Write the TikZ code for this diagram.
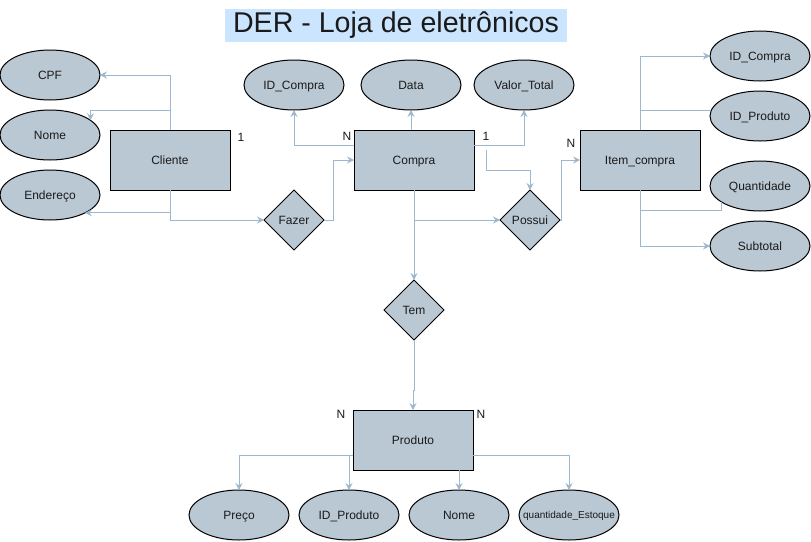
\documentclass[tikz,border=0pt]{standalone}
\usepackage{fontspec}
\setmainfont{Liberation Sans}
\usepackage{tikz}
\usetikzlibrary{shapes.geometric,positioning}
\usetikzlibrary{arrows.meta,calc}
\definecolor{caixa}{HTML}{BAC8D3}
\definecolor{ligacao}{HTML}{9DB7CE}
\definecolor{fundotitulo}{HTML}{CCE5FF}
\definecolor{texto}{HTML}{1A1A1A}

\begin{document}
\begin{tikzpicture}[x=1pt,y=-1pt,every node/.style={outer sep=0pt,text=texto},
        rotulo/.style={font=\fontsize{12}{14}\selectfont,text height=8.6pt,text depth=0pt},
        entidade/.style={rotulo,draw=black,fill=caixa,line width=1pt,minimum width=120pt,minimum height=60pt},
        atributo/.style={rotulo,ellipse,draw=black,fill=caixa,line width=1pt,minimum width=100pt,minimum height=50pt,inner sep=0pt},
        relacao/.style={rotulo,diamond,draw=black,fill=caixa,line width=1pt,minimum width=60pt,minimum height=60pt,inner sep=0pt},
        traco/.style={draw=ligacao,line width=1pt},
        seta/.style={traco,-{Stealth[length=7pt,width=7pt,inset=2.5pt]}},
        card/.style={rotulo,inner sep=0pt},
        titulo/.style={fill=fundotitulo,minimum width=342pt,minimum height=33pt,inner sep=0pt,font=\fontsize{28.6}{32}\selectfont}]
        \useasboundingbox (0,0) rectangle (811,541);

        % Title
        \node[titulo] (tit) at (396,25.5) {DER - Loja de eletrônicos};

        % Entities
        \node[entidade] (cliente) at (170,160) {Cliente};
        \node[entidade] (compra) at (414,160) {Compra};
        \node[entidade] (item) at (640,160) {Item\_compra};
        \node[entidade] (produto) at (413,440) {Produto};

        % Relationships
        \node[relacao] (fazer) at (294,220) {Fazer};
        \node[relacao] (possui) at (530,220) {Possui};
        \node[relacao] (tem) at (414,310) {Tem};

        % Cliente attributes
        \node[atributo] (cpf) at (50,75) {CPF};
        \node[atributo,below=10pt of cpf] (nome) {Nome};
        \node[atributo,below=10pt of nome] (endereco) {Endereço};

        % Compra attributes
        \node[atributo] (idcompra) at (294,85) {ID\_Compra};
        \node[atributo] (data) at (411,85) {Data};
        \node[atributo] (valor) at (524,85) {Valor\_Total};

        % Item_compra attributes
        \node[atributo] (itemidcompra) at (760,56) {ID\_Compra};
        \node[atributo,below=10pt of itemidcompra] (itemidproduto) {ID\_Produto};
        \node[atributo,below=20pt of itemidproduto] (quantidade) {Quantidade};
        \node[atributo,below=10pt of quantidade] (subtotal) {Subtotal};

        % Produto attributes
        \node[atributo] (preco) at (239,515) {Preço};
        \node[atributo,right=10pt of preco] (idproduto) {ID\_Produto};
        \node[atributo,right=10pt of idproduto] (nomeprod) {Nome};
        \node[atributo,right=10pt of nomeprod,font=\fontsize{10}{12}\selectfont,text height=7.2pt,inner xsep=-12pt] (estoque) {quantidade\_Estoque};

        % Cardinalities
        \node[card] (c1) at ([xshift=11pt,yshift=-7pt]cliente.north east) {1};
        \node[card] (c2) at ([xshift=-7pt,yshift=-6pt]compra.north west) {N};
        \node[card] (c3) at ([xshift=12pt,yshift=-6pt]compra.north east) {1};
        \node[card] (c4) at ([xshift=-9pt,yshift=-13pt]item.north west) {N};
        \node[card] (c5) at ([xshift=-12pt,yshift=-4pt]produto.north west) {N};
        \node[card] (c6) at ([xshift=8pt,yshift=-4pt]produto.north east) {N};
        \coordinate (possuiin) at ([yshift=-14pt]c3.center);

        % Cliente links
        \draw[seta] (cliente.north) |- (cpf.east);
        \draw[seta] (cliente.north |- 0,110) -| (nome.20);
        \draw[seta] (cliente.south |- endereco.-27.4) -- (endereco.-27.4);
        \draw[seta] (cliente.south) |- (fazer.west);
        \draw[seta] (fazer.east) -- ++(9,0) |- (compra.west);

        % Compra links
        \draw[seta] (compra.west |- 0,145) -| (idcompra.south);
        \draw[seta] (data.south |- compra.north) -- (data.south);
        \draw[seta] (compra.east |- 0,145) -| (valor.south);
        \draw[seta] (possuiin) -- (possuiin |- 0,170) -| (possui.north);
        \draw[seta] (compra.south |- possui.west) -- (possui.west);
        \draw[seta] (compra.south) -- (tem.north);
        \draw[seta] (possui.east) -- ++(1,0) |- (item.west);

        % Item_compra links
        \draw[seta] (item.north) |- (itemidcompra.west);
        \draw[traco] (item.north |- itemidproduto.173) -- (itemidproduto.173);
        \draw[traco] (item.south |- 0,210) -| (quantidade.-158);
        \draw[seta] (item.south) |- (subtotal.west);

        % Produto links
        \draw[seta] (tem.south) -- (tem.south |- 0,390) -| (produto.north);
        \draw[seta] (produto.west |- 0,455) -| (preco.north);
        \draw[seta] (idproduto.north |- 0,455) -- (idproduto.north);
        \draw[seta] (nomeprod.north |- produto.south) -- (nomeprod.north);
        \draw[seta] (produto.east |- 0,455) -| (estoque.north);

    \end{tikzpicture}
\end{document}
